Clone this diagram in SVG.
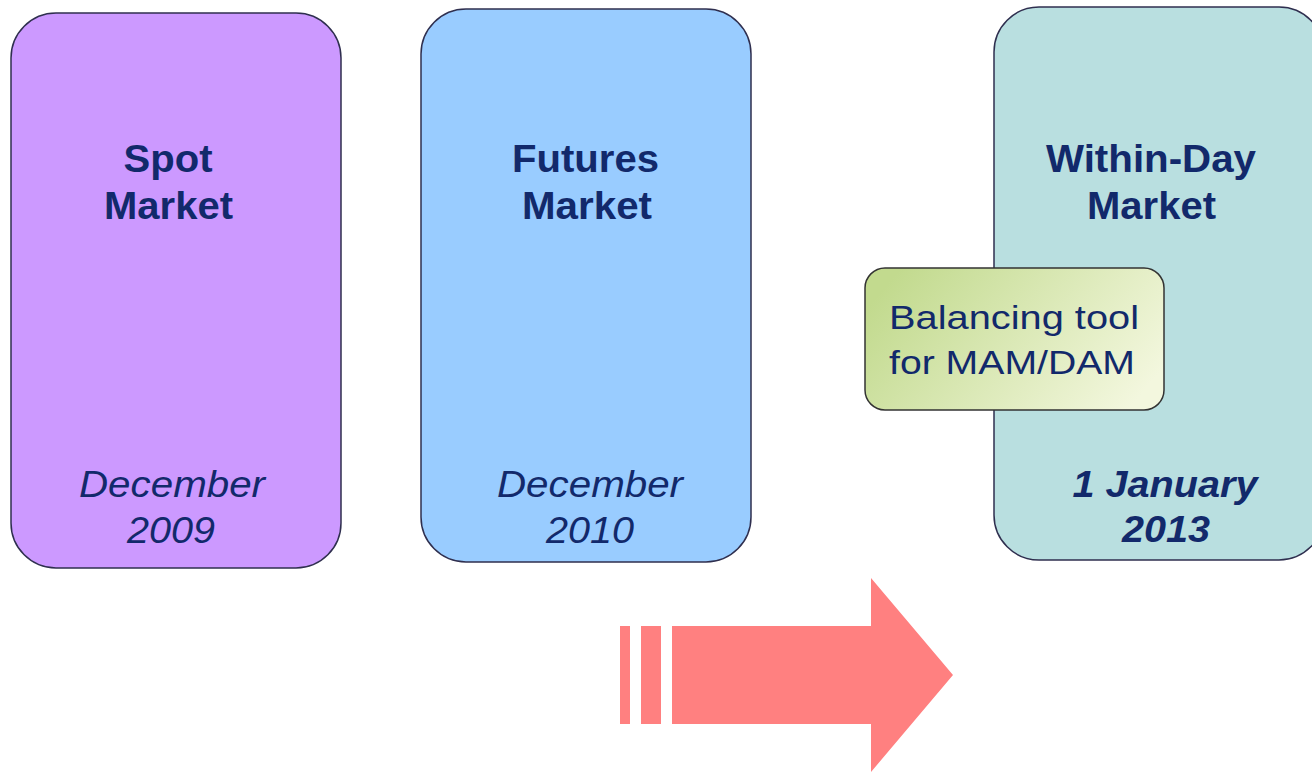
<svg xmlns="http://www.w3.org/2000/svg" width="1312" height="772" viewBox="0 0 1312 772">
<style>
.box{stroke:#2f2f4f;stroke-width:1.5}
.t{font-family:"Liberation Sans",Arial,sans-serif;fill:#12296b;text-anchor:middle}
.b{font-weight:bold;font-size:38px}
.i{font-style:italic;font-size:36px}
.bi{font-style:italic;font-weight:bold;font-size:36px}
.r{font-size:34px;text-anchor:start}
.arrow{fill:#ff8080}
</style>
<defs>
<linearGradient id="g" x1="0" y1="0.3" x2="1" y2="0.7">
<stop offset="0" stop-color="#c2da8e"/>
<stop offset="1" stop-color="#f3f7de"/>
</linearGradient>
</defs>
<rect width="1312" height="772" fill="#ffffff"/>
<g id="spot">
<rect class="box" x="11" y="13" width="330" height="555" rx="45" ry="45" fill="#cc99ff"/>
<text class="t b" x="168" y="172" textLength="89" lengthAdjust="spacingAndGlyphs">Spot</text>
<text class="t b" x="168.5" y="219" textLength="129" lengthAdjust="spacingAndGlyphs">Market</text>
<text class="t i" x="172" y="497" textLength="186" lengthAdjust="spacingAndGlyphs">December</text>
<text class="t i" x="171" y="543" textLength="88" lengthAdjust="spacingAndGlyphs">2009</text>
</g>
<g id="futures">
<rect class="box" x="421" y="9" width="330" height="553" rx="45" ry="45" fill="#99ccff"/>
<text class="t b" x="585.5" y="172" textLength="147" lengthAdjust="spacingAndGlyphs">Futures</text>
<text class="t b" x="587" y="219" textLength="130" lengthAdjust="spacingAndGlyphs">Market</text>
<text class="t i" x="590" y="497" textLength="186" lengthAdjust="spacingAndGlyphs">December</text>
<text class="t i" x="590" y="543" textLength="88" lengthAdjust="spacingAndGlyphs">2010</text>
</g>
<g id="withinday">
<rect class="box" x="994" y="7" width="330" height="553" rx="45" ry="45" fill="#b9dfe0"/>
<text class="t b" x="1151" y="172" textLength="210" lengthAdjust="spacingAndGlyphs">Within-Day</text>
<text class="t b" x="1151.5" y="219" textLength="129" lengthAdjust="spacingAndGlyphs">Market</text>
<text class="t bi" x="1165" y="497" textLength="185" lengthAdjust="spacingAndGlyphs">1 January</text>
<text class="t bi" x="1166" y="542" textLength="88" lengthAdjust="spacingAndGlyphs">2013</text>
</g>
<g id="balancing">
<rect x="865" y="268" width="299" height="142" rx="20" ry="20" fill="url(#g)" stroke="#333333" stroke-width="1.5"/>
<text class="t r" x="889" y="329" textLength="250" lengthAdjust="spacingAndGlyphs">Balancing tool</text>
<text class="t r" x="889" y="374" textLength="246" lengthAdjust="spacingAndGlyphs">for MAM/DAM</text>
</g>
<g id="connectors">
<rect class="arrow" x="620" y="626" width="10" height="98"/>
<rect class="arrow" x="641" y="626" width="20" height="98"/>
<polygon class="arrow" points="672,626 871,626 871,578 953,675 871,772 871,724 672,724"/>
</g>
</svg>
